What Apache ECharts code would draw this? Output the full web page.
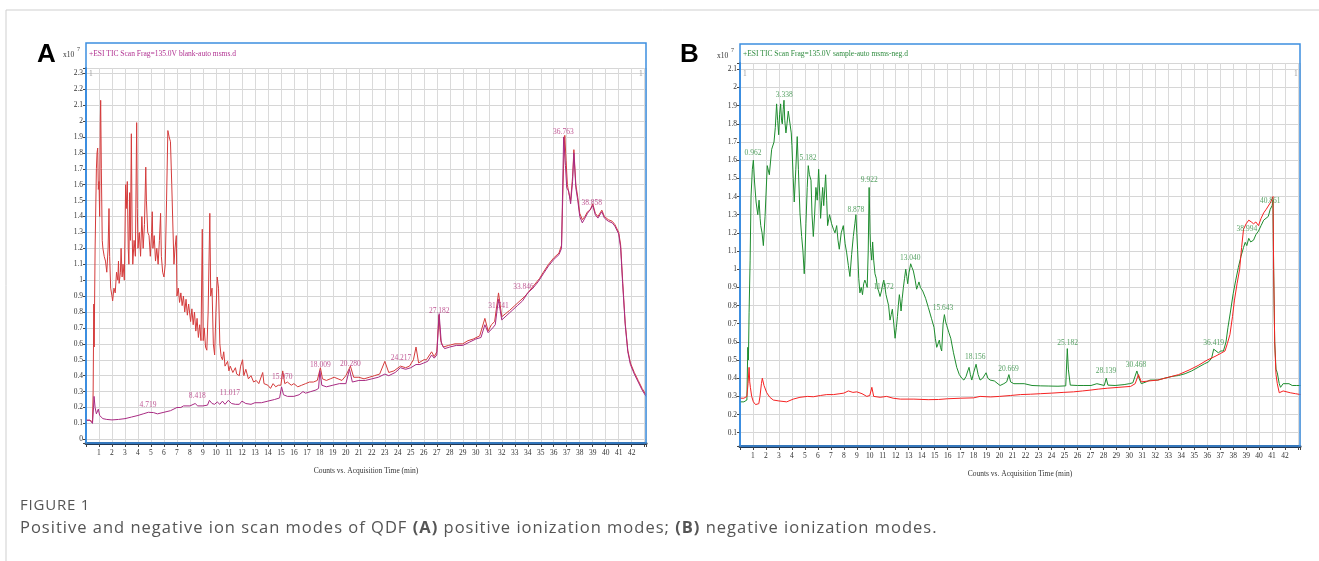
<!DOCTYPE html>
<html>
<head>
<meta charset="utf-8">
<script src="https://cdn.jsdelivr.net/npm/echarts@6/dist/echarts.min.js"></script>
<style>
  body { margin: 0; background: #fff; }
  #chart { position: absolute; left: 0; top: 0; width: 1319px; height: 561px; }
  .cap { position: absolute; left: 20px; font-family: "Open Sans", sans-serif; color: #555; white-space: nowrap; }
</style>
</head>
<body>
<div id="chart"></div>
<div class="cap" style="top:494px;font-size:15px;letter-spacing:0.8px;">FIGURE 1</div>
<div class="cap" style="top:515px;font-size:16.5px;letter-spacing:1px;">Positive and negative ion scan modes of QDF <b>(A)</b> positive ionization modes; <b>(B)</b> negative ionization modes.</div>
<script>
// panel A, positive mode: [time (min), counts x10^7]
var aRed = [[0,0.12],[0.3,0.12],[0.5,0.11],[0.55,0.3],[0.6,0.85],[0.63,0.58],[0.7,1.2],[0.8,1.7],[0.85,1.8],[0.9,1.83],[0.95,1.57],[1.0,1.62],[1.05,1.4],[1.1,2.0],[1.13,2.13],[1.18,1.7],[1.25,1.25],[1.3,1.2],[1.4,1.15],[1.5,1.12],[1.6,1.05],[1.7,1.2],[1.77,1.45],[1.82,1.15],[1.9,0.95],[2.0,0.9],[2.05,0.87],[2.15,0.95],[2.25,0.92],[2.35,1.05],[2.45,1.0],[2.5,1.12],[2.55,0.98],[2.65,1.05],[2.7,1.2],[2.78,1.02],[2.85,1.1],[2.95,1.0],[3.05,1.6],[3.1,1.45],[3.18,1.62],[3.25,1.2],[3.3,1.1],[3.36,1.55],[3.42,1.25],[3.49,1.92],[3.55,1.3],[3.6,1.1],[3.7,1.25],[3.8,1.15],[3.9,1.99],[3.95,1.45],[4.0,1.2],[4.1,1.3],[4.2,1.15],[4.3,1.4],[4.4,1.2],[4.5,1.35],[4.6,1.71],[4.65,1.5],[4.75,1.3],[4.85,1.28],[4.95,1.15],[5.05,1.3],[5.1,1.43],[5.15,1.2],[5.25,1.28],[5.35,1.12],[5.45,1.2],[5.55,1.1],[5.65,1.25],[5.74,1.42],[5.8,1.15],[5.9,1.05],[6.0,1.02],[6.1,1.1],[6.2,1.5],[6.3,1.94],[6.4,1.9],[6.5,1.87],[6.6,1.6],[6.7,1.3],[6.77,1.1],[6.85,1.2],[6.95,1.28],[7.0,0.9],[7.1,0.95],[7.2,0.86],[7.3,0.92],[7.4,0.84],[7.5,0.9],[7.6,0.8],[7.7,0.88],[7.8,0.78],[7.9,0.85],[8.05,0.74],[8.15,0.82],[8.25,0.72],[8.35,0.8],[8.45,0.68],[8.55,0.76],[8.65,0.64],[8.75,0.72],[8.85,0.62],[8.95,1.32],[9.02,0.62],[9.1,0.7],[9.2,0.58],[9.3,0.56],[9.4,0.8],[9.53,1.42],[9.6,0.9],[9.7,0.95],[9.8,0.6],[9.9,0.53],[10.0,0.8],[10.1,1.02],[10.2,0.95],[10.3,0.6],[10.4,0.52],[10.5,0.5],[10.6,0.55],[10.7,0.46],[10.8,0.45],[10.9,0.49],[11.0,0.43],[11.1,0.46],[11.3,0.42],[11.5,0.45],[11.6,0.41],[11.8,0.4],[11.9,0.46],[12.05,0.5],[12.15,0.4],[12.3,0.44],[12.5,0.38],[12.7,0.4],[12.9,0.36],[13.1,0.37],[13.3,0.35],[13.6,0.42],[13.7,0.35],[14.0,0.34],[14.2,0.32],[14.4,0.35],[14.6,0.33],[14.8,0.34],[15.0,0.34],[15.14,0.43],[15.3,0.35],[15.5,0.36],[15.8,0.34],[16.0,0.35],[16.3,0.33],[16.6,0.34],[16.9,0.35],[17.2,0.36],[17.5,0.36],[17.8,0.37],[18.04,0.45],[18.2,0.38],[18.5,0.37],[18.8,0.38],[19.1,0.39],[19.4,0.38],[19.7,0.37],[20.0,0.4],[20.35,0.46],[20.6,0.39],[21.0,0.39],[21.4,0.38],[21.8,0.39],[22.2,0.4],[22.6,0.41],[23.0,0.49],[23.3,0.42],[23.7,0.43],[24.2,0.46],[24.6,0.45],[24.9,0.46],[25.2,0.5],[25.4,0.58],[25.6,0.48],[26.0,0.5],[26.2,0.5],[26.6,0.55],[26.8,0.52],[27.0,0.55],[27.16,0.78],[27.3,0.62],[27.5,0.58],[27.9,0.59],[28.4,0.6],[29.0,0.6],[29.4,0.62],[29.8,0.63],[30.3,0.65],[30.7,0.76],[30.95,0.68],[31.2,0.72],[31.45,0.74],[31.75,0.92],[32.0,0.77],[32.3,0.79],[32.6,0.81],[33.0,0.84],[33.4,0.87],[33.8,0.9],[34.1,0.93],[34.5,0.97],[34.9,1.01],[35.2,1.05],[35.6,1.1],[36.0,1.14],[36.4,1.17],[36.6,1.22],[36.75,1.7],[36.85,1.91],[36.95,1.75],[37.05,1.6],[37.15,1.55],[37.3,1.5],[37.45,1.65],[37.55,1.82],[37.7,1.6],[37.85,1.52],[38.0,1.42],[38.2,1.38],[38.4,1.4],[38.6,1.43],[38.8,1.44],[39.0,1.48],[39.2,1.42],[39.4,1.4],[39.7,1.44],[39.9,1.4],[40.2,1.38],[40.5,1.37],[40.7,1.35],[41.0,1.3],[41.15,1.22],[41.3,1.0],[41.5,0.73],[41.7,0.56],[41.9,0.48],[42.2,0.42],[42.5,0.37],[42.8,0.32],[43.1,0.28]];
var aPink = [[0,0.12],[0.3,0.12],[0.5,0.1],[0.58,0.2],[0.62,0.27],[0.7,0.2],[0.8,0.16],[0.95,0.19],[1.05,0.15],[1.3,0.13],[1.6,0.125],[2.0,0.122],[2.5,0.125],[3.0,0.13],[3.5,0.14],[4.0,0.15],[4.4,0.16],[4.8,0.17],[5.2,0.168],[5.5,0.16],[6.0,0.17],[6.5,0.18],[7.0,0.2],[7.3,0.2],[7.5,0.21],[8.0,0.21],[8.4,0.225],[8.6,0.21],[9.0,0.21],[9.35,0.215],[9.5,0.245],[9.7,0.225],[9.9,0.22],[10.1,0.235],[10.3,0.22],[10.5,0.24],[10.7,0.22],[10.95,0.245],[11.2,0.225],[11.5,0.22],[11.8,0.22],[12.0,0.24],[12.3,0.225],[12.7,0.22],[13.0,0.23],[13.5,0.23],[14.0,0.24],[14.5,0.25],[14.9,0.26],[15.05,0.33],[15.2,0.28],[15.5,0.27],[16.0,0.27],[16.4,0.28],[16.7,0.3],[16.9,0.29],[17.3,0.3],[17.7,0.31],[17.9,0.32],[18.0,0.43],[18.15,0.34],[18.5,0.33],[19.0,0.34],[19.5,0.35],[20.0,0.35],[20.28,0.44],[20.5,0.36],[21.0,0.37],[21.5,0.37],[22.0,0.38],[22.5,0.39],[23.0,0.41],[23.3,0.4],[23.8,0.42],[24.2,0.45],[24.6,0.44],[25.0,0.45],[25.4,0.47],[25.7,0.47],[26.0,0.48],[26.3,0.49],[26.6,0.53],[26.8,0.51],[27.0,0.53],[27.18,0.79],[27.35,0.6],[27.6,0.57],[28.0,0.58],[28.5,0.59],[29.0,0.59],[29.5,0.61],[30.0,0.63],[30.4,0.64],[30.7,0.72],[30.95,0.67],[31.3,0.7],[31.5,0.72],[31.74,0.88],[32.0,0.75],[32.4,0.78],[32.8,0.81],[33.2,0.84],[33.6,0.87],[34.0,0.92],[34.4,0.95],[34.8,0.99],[35.2,1.04],[35.6,1.09],[36.0,1.13],[36.4,1.16],[36.6,1.2],[36.76,1.9],[36.9,1.72],[37.0,1.58],[37.15,1.56],[37.3,1.48],[37.45,1.62],[37.55,1.8],[37.7,1.58],[37.85,1.5],[38.0,1.4],[38.2,1.36],[38.4,1.39],[38.6,1.42],[38.86,1.45],[39.0,1.47],[39.2,1.41],[39.4,1.39],[39.7,1.43],[39.9,1.39],[40.2,1.37],[40.5,1.36],[40.7,1.34],[41.0,1.29],[41.15,1.2],[41.3,0.98],[41.5,0.72],[41.7,0.55],[41.9,0.47],[42.2,0.41],[42.5,0.36],[42.8,0.31],[43.1,0.27]];
var aPeakNames = ['4.719','8.418','11.017','15.070','18.009','20.280','24.217','27.182','31.741','33.846','36.763','38.858'];
var aPeakPos = [[4.77,0.216],[8.56,0.272],[11.07,0.29],[15.1,0.39],[18.04,0.467],[20.35,0.473],[24.24,0.513],[27.19,0.806],[31.75,0.838],[33.67,0.955],[36.74,1.933],[38.92,1.483]];

// panel B, negative mode
var bGreen = [[0,0.27],[0.3,0.27],[0.53,0.28],[0.6,0.57],[0.65,0.5],[0.7,0.76],[0.78,1.05],[0.85,1.4],[0.95,1.55],[1.03,1.6],[1.12,1.48],[1.24,1.37],[1.37,1.3],[1.47,1.38],[1.55,1.28],[1.6,1.24],[1.7,1.2],[1.8,1.13],[1.93,1.29],[2.1,1.57],[2.26,1.52],[2.44,1.66],[2.62,1.7],[2.72,1.78],[2.82,1.91],[2.9,1.82],[2.98,1.74],[3.05,1.85],[3.13,1.91],[3.2,1.82],[3.26,1.8],[3.33,1.88],[3.39,1.93],[3.45,1.82],[3.54,1.75],[3.62,1.8],[3.72,1.87],[3.85,1.88],[3.95,1.75],[4.0,1.68],[4.1,1.5],[4.18,1.37],[4.3,1.55],[4.41,1.73],[4.5,1.55],[4.62,1.31],[4.75,1.18],[4.85,1.1],[4.95,0.975],[5.0,1.05],[5.08,1.25],[5.18,1.45],[5.26,1.57],[5.35,1.52],[5.47,1.49],[5.55,1.3],[5.65,1.18],[5.75,1.3],[5.85,1.45],[5.95,1.38],[6.06,1.55],[6.15,1.4],[6.21,1.28],[6.3,1.38],[6.37,1.45],[6.45,1.35],[6.6,1.52],[6.68,1.38],[6.75,1.24],[6.9,1.3],[7.06,1.25],[7.2,1.22],[7.32,1.2],[7.45,1.24],[7.55,1.16],[7.65,1.11],[7.8,1.2],[7.96,1.24],[8.1,1.14],[8.22,1.09],[8.35,1.02],[8.47,0.96],[8.6,1.08],[8.73,1.18],[8.85,1.25],[8.93,1.3],[9.0,1.2],[9.06,1.11],[9.15,0.95],[9.24,0.87],[9.34,0.9],[9.44,0.86],[9.53,0.92],[9.62,0.94],[9.72,0.92],[9.8,0.9],[9.88,1.1],[9.95,1.45],[10.02,1.2],[10.06,1.12],[10.15,1.05],[10.22,1.15],[10.3,1.05],[10.4,0.975],[10.5,0.95],[10.58,0.9],[10.68,0.88],[10.79,0.85],[10.9,0.88],[11.0,0.92],[11.08,0.94],[11.17,0.9],[11.25,0.86],[11.35,0.85],[11.45,0.8],[11.56,0.72],[11.65,0.75],[11.74,0.78],[11.85,0.7],[11.95,0.62],[12.05,0.68],[12.13,0.74],[12.2,0.8],[12.28,0.86],[12.35,0.82],[12.41,0.77],[12.5,0.84],[12.59,0.9],[12.68,0.95],[12.77,1.0],[12.85,0.96],[12.92,0.92],[13.02,0.98],[13.15,1.03],[13.25,1.01],[13.36,0.99],[13.5,0.94],[13.61,0.89],[13.7,0.91],[13.79,0.93],[13.9,0.9],[14.08,0.88],[14.3,0.84],[14.51,0.79],[14.75,0.73],[14.95,0.68],[15.05,0.62],[15.16,0.57],[15.26,0.58],[15.36,0.61],[15.45,0.57],[15.54,0.55],[15.65,0.7],[15.75,0.75],[15.85,0.71],[15.93,0.69],[16.1,0.65],[16.24,0.62],[16.45,0.54],[16.7,0.46],[16.9,0.42],[17.09,0.4],[17.25,0.39],[17.42,0.41],[17.55,0.44],[17.65,0.46],[17.75,0.42],[17.86,0.39],[18.0,0.43],[18.19,0.477],[18.35,0.42],[18.5,0.39],[18.7,0.4],[18.96,0.43],[19.1,0.4],[19.27,0.39],[19.6,0.385],[20.04,0.36],[20.33,0.37],[20.55,0.38],[20.72,0.42],[20.85,0.38],[21.1,0.37],[21.5,0.37],[21.9,0.37],[22.5,0.36],[23.17,0.358],[23.8,0.357],[24.5,0.356],[25.1,0.358],[25.22,0.563],[25.3,0.45],[25.45,0.362],[26.0,0.36],[26.5,0.36],[27.05,0.36],[27.5,0.37],[28.07,0.36],[28.22,0.4],[28.35,0.362],[28.9,0.36],[29.6,0.365],[30.0,0.37],[30.27,0.375],[30.58,0.44],[30.75,0.4],[30.92,0.37],[31.3,0.38],[31.6,0.39],[31.7,0.38],[32.2,0.39],[32.7,0.4],[33.3,0.41],[33.8,0.415],[34.3,0.425],[34.8,0.44],[35.3,0.46],[35.8,0.48],[36.1,0.49],[36.34,0.51],[36.5,0.56],[36.6,0.55],[36.86,0.54],[37.05,0.55],[37.25,0.55],[37.45,0.6],[37.6,0.68],[37.8,0.77],[38.0,0.865],[38.2,0.94],[38.4,1.01],[38.6,1.07],[38.8,1.12],[38.93,1.148],[39.05,1.13],[39.2,1.17],[39.35,1.15],[39.57,1.16],[39.75,1.19],[39.95,1.21],[40.15,1.24],[40.35,1.27],[40.5,1.26],[40.7,1.29],[40.86,1.33],[41.0,1.35],[41.07,1.38],[41.12,1.0],[41.2,0.6],[41.3,0.45],[41.4,0.43],[41.55,0.37],[41.65,0.35],[41.85,0.37],[42.0,0.38],[42.3,0.37],[42.55,0.36],[42.9,0.36],[43.2,0.36]];
var bRed = [[0,0.29],[0.3,0.29],[0.53,0.3],[0.58,0.34],[0.62,0.37],[0.7,0.46],[0.75,0.38],[0.8,0.35],[0.9,0.3],[1.03,0.27],[1.2,0.255],[1.34,0.245],[1.45,0.26],[1.54,0.3],[1.65,0.37],[1.72,0.4],[1.85,0.36],[2.06,0.32],[2.3,0.295],[2.57,0.28],[3.0,0.275],[3.6,0.27],[4.1,0.285],[4.62,0.295],[5.2,0.3],[5.65,0.298],[6.2,0.305],[6.68,0.31],[7.2,0.31],[7.7,0.315],[8.0,0.318],[8.35,0.33],[8.7,0.322],[9.0,0.325],[9.4,0.315],[9.77,0.3],[10.0,0.305],[10.16,0.35],[10.3,0.3],[10.8,0.295],[11.3,0.3],[11.8,0.29],[12.35,0.285],[13.4,0.285],[14.5,0.282],[15.3,0.283],[16.0,0.287],[17.0,0.29],[18.0,0.292],[18.5,0.3],[19.3,0.297],[20.0,0.3],[20.85,0.305],[21.6,0.31],[22.4,0.312],[23.17,0.315],[24.0,0.318],[24.9,0.322],[25.7,0.325],[26.4,0.33],[27.05,0.335],[27.6,0.34],[28.3,0.345],[29.2,0.35],[30.1,0.355],[30.45,0.37],[30.7,0.42],[30.92,0.38],[31.5,0.385],[32.2,0.39],[33.0,0.405],[33.8,0.42],[34.6,0.445],[35.3,0.47],[36.0,0.5],[36.6,0.52],[37.0,0.535],[37.37,0.55],[37.55,0.59],[37.75,0.64],[37.95,0.74],[38.1,0.83],[38.3,0.92],[38.5,1.0],[38.65,1.12],[38.8,1.22],[39.0,1.25],[39.2,1.27],[39.4,1.26],[39.57,1.25],[39.75,1.26],[39.95,1.24],[40.15,1.28],[40.35,1.31],[40.55,1.33],[40.7,1.34],[40.9,1.37],[41.07,1.4],[41.12,1.0],[41.2,0.6],[41.3,0.42],[41.4,0.37],[41.55,0.32],[41.7,0.31],[41.85,0.33],[42.0,0.33],[42.4,0.32],[42.8,0.315],[43.2,0.31]];
var bPeakNames = ['0.962','3.338','5.182','8.878','9.922','11.372','13.040','15.643','18.156','20.669','25.182','28.139','30.468','36.419','38.994','40.861'];
var bPeakPos = [[1.0,1.639],[3.41,1.959],[5.24,1.611],[8.93,1.328],[9.96,1.492],[11.07,0.9],[13.12,1.062],[15.64,0.788],[18.13,0.514],[20.69,0.453],[25.24,0.594],[28.2,0.44],[30.51,0.471],[36.49,0.596],[39.06,1.222],[40.86,1.373]];

var tinyFont = "Liberation Serif";
var chart = echarts.init(document.getElementById("chart"));

function peakData(names, pos) {
  var out = [];
  for (var i = 0; i < names.length; i++) {
    out.push({ name: names[i], value: pos[i] });
  }
  return out;
}

function xAxisFor(idx, maxT) {
  return {
    type: "value", gridIndex: idx, min: 0, max: maxT, interval: 1,
    name: "Counts vs. Acquisition Time (min)", nameLocation: "middle", nameGap: 24,
    nameTextStyle: { fontFamily: tinyFont, fontSize: 7.5, color: "#333" },
    axisLine: { onZero: false, lineStyle: { color: "#203754", width: 3 } },
    axisTick: { length: 4, lineStyle: { color: "#444" } },
    axisLabel: {
      fontFamily: tinyFont, fontSize: 7.5, color: "#333", margin: 6,
      formatter: function (v) { return (v >= 1 && v <= 42) ? String(v) : ""; }
    },
    splitLine: { show: true, lineStyle: { color: "#dadada", width: 1 } }
  };
}

function yAxisFor(idx, lo, hi) {
  return {
    type: "value", gridIndex: idx, min: lo, max: hi, minInterval: 0.1, maxInterval: 0.1,
    axisLine: { show: true, lineStyle: { color: "#3d8fe0", width: 2 } },
    axisTick: { show: true, length: 3, lineStyle: { color: "#444" } },
    axisLabel: {
      fontFamily: tinyFont, fontSize: 7.5, color: "#333", margin: 3,
      formatter: function (v) {
        var r = Math.round(v * 10);
        return Math.abs(v * 10 - r) < 1e-6 ? String(r / 10) : "";
      }
    },
    splitLine: { show: true, lineStyle: { color: "#d6d6d6", width: 1 } }
  };
}

function trace(idx, data, color, w) {
  return {
    type: "line", xAxisIndex: idx, yAxisIndex: idx, data: data,
    showSymbol: false, symbol: "none", lineStyle: { color: color, width: w || 1 },
    silent: true
  };
}

function peakLabels(idx, data, color) {
  return {
    type: "scatter", xAxisIndex: idx, yAxisIndex: idx, data: data,
    symbolSize: 1, itemStyle: { color: "rgba(0,0,0,0)" }, silent: true, z: 5,
    label: { show: true, position: "inside", formatter: "{b}", color: color, fontFamily: tinyFont, fontSize: 7.5 }
  };
}

function tiny(x, y, text, color, extra) {
  var st = { x: x, y: y, text: text, fill: color || "#333", font: "7.5px " + tinyFont };
  if (extra) { for (var k in extra) st[k] = extra[k]; }
  return { type: "text", style: st, z: 10 };
}

var option = {
  animation: false,
  grid: [
    { left: 86, right: 673, top: 68, bottom: 118 },
    { left: 740, right: 19, top: 63, bottom: 115 }
  ],
  xAxis: [xAxisFor(0, 43.1), xAxisFor(1, 43.15)],
  yAxis: [yAxisFor(0, -0.023, 2.333), yAxisFor(1, 0.027, 2.135)],
  series: [
    trace(0, aRed, "#d43b3b"),
    trace(0, aPink, "#a82a82"),
    peakLabels(0, peakData(aPeakNames, aPeakPos), "#b0307a"),
    trace(1, bGreen, "#1e8c2e"),
    trace(1, bRed, "#f52222"),
    peakLabels(1, peakData(bPeakNames, bPeakPos), "#2e8b3e")
  ],
  graphic: [
    { type: "line", shape: { x1: 6, y1: 10, x2: 1319, y2: 10 }, style: { stroke: "#cfcfcf", lineWidth: 1 } },
    { type: "line", shape: { x1: 6, y1: 10, x2: 6, y2: 561 }, style: { stroke: "#cfcfcf", lineWidth: 1 } },
    { type: "rect", shape: { x: 86, y: 43, width: 560, height: 400 }, style: { fill: null, stroke: "#3d8fe0", lineWidth: 1.5 }, z: 9 },
    { type: "rect", shape: { x: 740, y: 44, width: 560, height: 402 }, style: { fill: null, stroke: "#3d8fe0", lineWidth: 1.5 }, z: 9 },
    { type: "text", style: { x: 37, y: 42, text: "A", font: "bold 26px 'Liberation Sans'", fill: "#000" } },
    { type: "text", style: { x: 680, y: 42, text: "B", font: "bold 26px 'Liberation Sans'", fill: "#000" } },
    tiny(63, 51, "x10", "#333"),
    tiny(77, 46, "7", "#333", { font: "6px " + tinyFont }),
    tiny(717, 52, "x10", "#333"),
    tiny(731, 47, "7", "#333", { font: "6px " + tinyFont }),
    tiny(89, 50, "+ESI TIC Scan Frag=135.0V blank-auto msms.d", "#b03090"),
    tiny(743, 50, "+ESI TIC Scan Frag=135.0V sample-auto msms-neg.d", "#2e8b3e"),
    tiny(89, 70, "1", "#999"),
    tiny(639, 70, "1", "#999"),
    tiny(743, 70, "1", "#999"),
    tiny(1294, 70, "1", "#999")
  ]
};
chart.setOption(option);
</script>
</body>
</html>
